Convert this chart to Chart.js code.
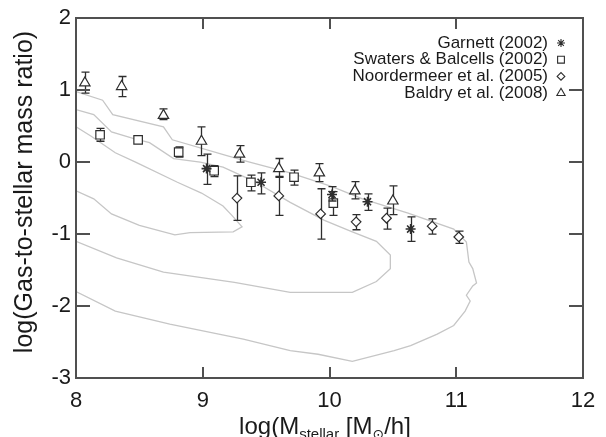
<!DOCTYPE html>
<html>
<head>
<meta charset="utf-8">
<script src="https://cdn.jsdelivr.net/npm/chart.js@4/dist/chart.umd.min.js"></script>
<style>
  body { margin: 0; background: #fff; }
</style>
</head>
<body>
<canvas id="myChart" width="606" height="437"></canvas>
<script>
// axis ticks
const xTicks = [8, 9, 10, 11, 12];
const yTicks = [-3, -2, -1, 0, 1, 2];

// Garnett (2002)
const garnettX  = [9.03, 9.46, 10.02, 10.30, 10.64];
const garnettY  = [-0.09, -0.28, -0.45, -0.55, -0.93];
const garnettHi = [0.11, -0.15, -0.34, -0.44, -0.76];
const garnettLo = [-0.31, -0.44, -0.54, -0.67, -1.10];

// Swaters & Balcells (2002)
const swatersX  = [8.19, 8.49, 8.81, 9.09, 9.38, 9.72, 10.03];
const swatersY  = [0.38, 0.31, 0.14, -0.12, -0.28, -0.21, -0.57];
const swatersHi = [0.47, 0.36, 0.21, -0.05, -0.18, -0.11, -0.41];
const swatersLo = [0.29, 0.26, 0.07, -0.20, -0.40, -0.32, -0.74];

// Noordermeer et al. (2005)
const noordX  = [9.27, 9.60, 9.93, 10.21, 10.45, 10.81, 11.02];
const noordY  = [-0.50, -0.47, -0.72, -0.83, -0.78, -0.89, -1.04];
const noordHi = [-0.19, -0.20, -0.37, -0.73, -0.64, -0.79, -0.96];
const noordLo = [-0.81, -0.74, -1.07, -0.94, -0.93, -1.00, -1.13];

// Baldry et al. (2008)
const baldryX  = [8.07, 8.36, 8.69, 8.99, 9.29, 9.60, 9.92, 10.20, 10.50];
const baldryY  = [1.10, 1.05, 0.65, 0.29, 0.11, -0.09, -0.15, -0.40, -0.54];
const baldryHi = [1.25, 1.19, 0.74, 0.49, 0.23, 0.05, -0.02, -0.27, -0.33];
const baldryLo = [0.96, 0.91, 0.59, 0.09, 0.00, -0.21, -0.27, -0.51, -0.73];

// model contours
const outerX = [8.0, 8.21, 8.29, 8.69, 8.76, 9.19, 9.37, 9.69, 10.02, 10.26, 10.62, 10.98, 11.08, 11.10, 11.13, 11.16, 11.13, 11.08, 11.11, 11.07, 10.98, 10.85, 10.64, 10.51, 10.18, 9.91, 9.69, 9.32, 8.74, 8.31, 8.0];
const outerY = [0.98, 0.86, 0.66, 0.49, 0.31, 0.09, 0.0, -0.15, -0.34, -0.51, -0.71, -0.93, -1.11, -1.39, -1.48, -1.68, -1.72, -1.85, -1.93, -2.07, -2.27, -2.39, -2.55, -2.62, -2.77, -2.67, -2.62, -2.46, -2.25, -2.07, -1.80];
const middleX = [8.0, 8.14, 8.28, 8.45, 8.58, 8.77, 8.98, 9.16, 9.41, 9.69, 9.96, 10.18, 10.37, 10.48, 10.48, 10.37, 10.18, 9.69, 9.25, 8.69, 8.32, 8.0];
const middleY = [0.73, 0.66, 0.42, 0.33, 0.27, 0.05, 0.0, -0.07, -0.27, -0.56, -0.81, -0.97, -1.10, -1.29, -1.48, -1.66, -1.81, -1.81, -1.67, -1.53, -1.33, -1.10];
const innerX = [8.0, 8.12, 8.31, 8.47, 8.80, 8.99, 9.16, 9.23, 9.31, 9.24, 8.90, 8.78, 8.50, 8.28, 8.14, 8.0];
const innerY = [0.49, 0.36, 0.13, 0.0, -0.28, -0.43, -0.61, -0.74, -0.90, -0.97, -0.98, -1.01, -0.88, -0.72, -0.51, -0.40];

const INK = '#2e2e2e';
const FONT = '"Liberation Sans", Arial, Helvetica, sans-serif';

function pts(xs, ys) {
  return xs.map((x, i) => ({x: x, y: ys[i]}));
}

function contour(xs, ys) {
  return {
    data: pts(xs, ys),
    showLine: true,
    borderColor: '#c6c6c6',
    borderWidth: 1.3,
    pointRadius: 0,
    fill: false,
    tension: 0,
    order: 10
  };
}

function markers(label, xs, ys, hi, lo, style, radius, lw) {
  return {
    label: label,
    data: pts(xs, ys),
    errHi: hi,
    errLo: lo,
    pointStyle: style,
    pointRadius: radius,
    pointBorderWidth: lw,
    borderColor: INK,
    backgroundColor: '#ffffff',
    showLine: false,
    order: 1
  };
}

const series = [
  markers('Garnett (2002)', garnettX, garnettY, garnettHi, garnettLo, 'star', 5, 1.6),
  markers('Swaters & Balcells (2002)', swatersX, swatersY, swatersHi, swatersLo, 'rect', 6, 1.2),
  markers('Noordermeer et al. (2005)', noordX, noordY, noordHi, noordLo, 'rectRot', 4.8, 1.2),
  markers('Baldry et al. (2008)', baldryX, baldryY, baldryHi, baldryLo, 'triangle', 6, 1.2)
];

const datasets = series.concat([
  contour(outerX, outerY),
  contour(middleX, middleY),
  contour(innerX, innerY)
]);

// error bars under each marker set
const errorBars = {
  id: 'errorBars',
  beforeDatasetDraw(chart, args) {
    const ds = chart.data.datasets[args.index];
    if (!ds.errHi) return;
    const ctx = chart.ctx, xs = chart.scales.x, ys = chart.scales.y;
    ctx.save();
    ctx.strokeStyle = INK;
    ctx.lineWidth = 1.3;
    ds.data.forEach((p, i) => {
      const px = Math.round(xs.getPixelForValue(p.x)) + 0.5;
      const top = ys.getPixelForValue(ds.errHi[i]);
      const bot = ys.getPixelForValue(ds.errLo[i]);
      ctx.beginPath();
      ctx.moveTo(px, top); ctx.lineTo(px, bot);
      ctx.moveTo(px - 4, top); ctx.lineTo(px + 4, top);
      ctx.moveTo(px - 4, bot); ctx.lineTo(px + 4, bot);
      ctx.stroke();
    });
    ctx.restore();
  }
};

// box, inward ticks, legend and axis titles
const overlay = {
  id: 'overlay',
  afterDraw(chart) {
    const ctx = chart.ctx, a = chart.chartArea;
    const xs = chart.scales.x, ys = chart.scales.y;
    ctx.save();
    ctx.fillStyle = '#505050';
    const L = Math.round(a.left), R = Math.round(a.right), T = Math.round(a.top), B = Math.round(a.bottom);
    ctx.fillRect(L - 1, T - 1, R - L + 2, 2);
    ctx.fillRect(L - 1, B - 1, R - L + 2, 2);
    ctx.fillRect(L - 1, T - 1, 2, B - T + 2);
    ctx.fillRect(R - 1, T - 1, 2, B - T + 2);
    xTicks.forEach(v => {
      const px = Math.round(xs.getPixelForValue(v));
      ctx.fillRect(px - 1, B - 11, 2, 11);
      ctx.fillRect(px - 1, T, 2, 11);
    });
    yTicks.forEach(v => {
      const py = Math.round(ys.getPixelForValue(v));
      ctx.fillRect(L, py - 1, 14, 2);
      ctx.fillRect(R - 14, py - 1, 14, 2);
    });

    ctx.font = '17px ' + FONT;
    ctx.textAlign = 'right';
    ctx.textBaseline = 'middle';
    series.forEach((ds, i) => {
      const y = 43 + i * 16.7;
      ctx.fillStyle = '#1a1a1a';
      ctx.fillText(ds.label, 548, y);
      ctx.strokeStyle = INK;
      ctx.fillStyle = '#ffffff';
      ctx.lineWidth = 1.1;
      Chart.helpers.drawPoint(ctx, {pointStyle: ds.pointStyle, radius: ds.pointRadius * 0.8, rotation: 0, borderWidth: 1.1}, 561, y);
    });

    ctx.fillStyle = '#1a1a1a';
    ctx.save();
    ctx.translate(25, 192);
    ctx.rotate(-Math.PI / 2);
    ctx.font = '25px ' + FONT;
    ctx.textAlign = 'center';
    ctx.textBaseline = 'middle';
    ctx.fillText('log(Gas-to-stellar mass ratio)', 0, 0);
    ctx.restore();

    const big = '24px ' + FONT, small = '15px ' + FONT;
    const parts = [
      ['log(M', big, 0], ['stellar', small, 5], [' [M', big, 0],
      ['\u2299', '14px "DejaVu Sans", ' + FONT, 5], ['/h]', big, 0]
    ];
    let w = 0;
    parts.forEach(p => { ctx.font = p[1]; w += ctx.measureText(p[0]).width; });
    let x = 325 - w / 2;
    ctx.textAlign = 'left';
    ctx.textBaseline = 'alphabetic';
    parts.forEach(p => {
      ctx.font = p[1];
      ctx.fillText(p[0], x, 434 + p[2]);
      x += ctx.measureText(p[0]).width;
    });
    ctx.restore();
  }
};

const config = {
  type: 'scatter',
  data: { datasets: datasets },
  options: {
    responsive: false,
    animation: false,
    layout: { padding: { left: 0, right: 23, top: 14, bottom: 0 } },
    plugins: {
      legend: { display: false },
      tooltip: { enabled: false }
    },
    scales: {
      x: {
        type: 'linear',
        min: 8, max: 12,
        afterFit: s => { s.height = 59; },
        afterBuildTicks: s => { s.ticks = xTicks.map(v => ({value: v})); },
        grid: { display: false, drawTicks: false },
        border: { display: false },
        ticks: { padding: 10, color: '#1a1a1a', font: { family: FONT, size: 22 } }
      },
      y: {
        type: 'linear',
        min: -3, max: 2,
        afterFit: s => { s.width = 76; },
        afterBuildTicks: s => { s.ticks = yTicks.map(v => ({value: v})); },
        grid: { display: false, drawTicks: false },
        border: { display: false },
        ticks: { padding: 5, color: '#1a1a1a', font: { family: FONT, size: 22 } }
      }
    }
  },
  plugins: [errorBars, overlay]
};

var ctx = document.getElementById('myChart').getContext('2d');
var myChart = new Chart(ctx, config);
</script>
</body>
</html>
